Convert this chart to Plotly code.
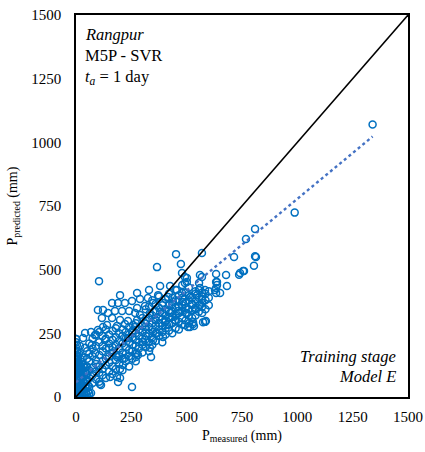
import plotly.graph_objects as go

# ---- data (measured, predicted) in mm ----
READ_POINTS = [
    (1340, 1070), (988, 724), (809, 660), (768, 620), (714, 550), (809, 553), (569, 565),
    (813, 550), (804, 515), (755, 495), (737, 480), (678, 479), (682, 436), (633, 483),
    (633, 452), (633, 428), (633, 408), (651, 408), (583, 420), (569, 471), (569, 353),
    (587, 298), (452, 561), (366, 510), (474, 522), (104, 455), (479, 487), (492, 471),
    (501, 452), (637, 452), (741, 487), (759, 495), (637, 440), (628, 420), (506, 275),
    (529, 287), (583, 295), (393, 236), (280, 165), (0, 228), (41, 251), (86, 243),
    (253, 39), (185, 79), (190, 59), (108, 51), (68, 16),
    (32, 232), (68, 255), (99, 263), (122, 275), (41, 193), (18, 200), (5, 157), (5, 126),
    (72, 204), (86, 173), (131, 224), (149, 193), (185, 157), (212, 126), (199, 110),
    (199, 75), (154, 79), (113, 47), (271, 157), (275, 173), (221, 153), (235, 232),
    (253, 255), (267, 275),
    (312, 275), (348, 255), (366, 251), (348, 224), (312, 224), (303, 216), (334, 193),
    (339, 157), (411, 283), (515, 275), (533, 279),
    (501, 467), (492, 448), (560, 479), (556, 448), (276, 408), (330, 420), (380, 436),
    (425, 436), (456, 420), (289, 385), (325, 389), (371, 400), (416, 393), (479, 408),
    (515, 393), (547, 400), (560, 428), (276, 349), (312, 357), (348, 369), (393, 369),
    (438, 373), (483, 373), (524, 361), (560, 361), (569, 385), (289, 322), (334, 330),
    (380, 334), (425, 330), (461, 338), (501, 330), (538, 345), (574, 294), (529, 294),
    (492, 283), (447, 302), (402, 294), (357, 306), (312, 291),
    (199, 400), (163, 369), (190, 369), (221, 369), (253, 377), (99, 342), (122, 342),
    (145, 330), (176, 338), (208, 338), (240, 338), (267, 330), (117, 310), (163, 310),
    (199, 302), (235, 298), (276, 302), (140, 283), (185, 279), (221, 287), (258, 283),
]

CLOUD_POINTS = [
    (50, 60), (50, 90), (50, 120), (50, 150), (50, 180),
    (60, 40), (60, 75), (60, 105), (60, 140), (60, 170), (60, 210),
    (75, 55), (75, 85), (75, 115), (75, 160), (75, 190), (75, 230),
    (90, 70), (90, 100), (90, 130), (90, 145), (90, 200), (90, 245),
    (105, 60), (105, 95), (105, 120), (105, 165), (105, 215), (105, 255),
    (120, 85), (120, 110), (120, 140), (120, 180), (120, 200), (120, 240),
    (135, 75), (135, 125), (135, 150), (135, 190), (135, 230), (135, 265),
    (150, 100), (150, 135), (150, 160), (150, 210), (150, 245),
    (165, 90), (165, 120), (165, 175), (165, 195), (165, 225), (165, 260),
    (180, 110), (180, 145), (180, 165), (180, 205), (180, 235), (180, 270),
    (195, 130), (195, 160), (195, 190), (195, 220), (195, 250),
    (210, 105), (210, 150), (210, 175), (210, 210), (210, 240), (210, 265),
    (225, 140), (225, 170), (225, 195), (225, 230), (225, 255),
    (240, 120), (240, 160), (240, 185), (240, 215), (240, 245), (240, 275),
    (255, 150), (255, 180), (255, 205), (255, 235), (255, 260),
    (270, 140), (270, 170), (270, 200), (270, 225), (270, 250), (270, 290),
    (285, 190), (285, 215), (285, 240), (285, 265),
    (300, 175), (300, 205), (300, 230), (300, 255), (300, 280), (300, 310),
    (315, 195), (315, 240), (315, 265), (315, 300), (315, 345),
    (330, 180), (330, 215), (330, 250), (330, 275), (330, 310), (330, 355),
    (345, 205), (345, 235), (345, 265), (345, 290), (345, 320), (345, 380),
    (360, 220), (360, 250), (360, 280), (360, 300), (360, 335), (360, 365),
    (375, 240), (375, 265), (375, 290), (375, 315), (375, 350), (375, 395),
    (390, 215), (390, 255), (390, 280), (390, 305), (390, 330), (390, 360),
    (405, 245), (405, 270), (405, 300), (405, 320), (405, 345), (405, 385),
    (420, 260), (420, 285), (420, 310), (420, 340), (420, 360), (420, 405),
    (435, 250), (435, 290), (435, 315), (435, 335), (435, 365), (435, 390),
    (450, 270), (450, 300), (450, 320), (450, 350), (450, 380), (450, 420),
    (465, 265), (465, 295), (465, 330), (465, 355), (465, 375), (465, 400),
    (480, 285), (480, 310), (480, 340), (480, 360), (480, 390), (480, 440),
    (495, 300), (495, 330), (495, 350), (495, 370), (495, 410),
    (510, 290), (510, 320), (510, 345), (510, 380), (510, 400), (510, 430),
    (525, 310), (525, 340), (525, 365), (525, 390),
    (540, 320), (540, 350), (540, 375), (540, 405), (540, 415),
    (555, 335), (555, 360), (555, 390), (555, 420),
    (570, 330), (570, 370), (570, 395), (570, 410),
    (585, 345), (585, 380), (585, 405),
    (600, 360), (600, 390), (600, 415),
]

BLOB_POINTS = [
    (0, 0), (3, 5), (6, 2), (10, 8), (14, 3), (18, 10), (22, 4), (26, 12), (30, 6),
    (35, 15), (40, 8), (45, 18), (50, 10), (55, 22), (60, 14),
    (0, 15), (4, 22), (8, 30), (12, 18), (16, 28), (20, 35), (25, 25), (30, 38),
    (36, 30), (42, 42), (48, 35), (55, 45),
    (0, 35), (3, 45), (7, 52), (11, 40), (15, 55), (19, 48), (24, 60), (28, 50),
    (33, 65), (38, 55), (44, 70), (50, 62),
    (0, 60), (2, 70), (5, 80), (9, 65), (13, 78), (17, 88), (21, 72), (26, 85),
    (31, 95), (36, 80), (41, 100), (47, 90),
    (0, 90), (3, 100), (6, 110), (10, 95), (14, 115), (18, 105), (23, 120), (28, 110),
    (34, 125), (40, 115),
    (0, 120), (2, 132), (5, 145), (8, 125), (12, 140), (16, 130), (20, 150), (25, 138),
    (30, 155),
    (0, 150), (3, 165), (6, 175), (2, 190), (4, 205), (0, 215), (9, 160), (14, 170),
    (1, 228), (5, 182),
]

# linear trendline coefficients
TREND_SLOPE = 0.72
TREND_INTERCEPT = 58

AXIS_MAX = 1500
TICK_VALUES = [0, 250, 500, 750, 1000, 1250, 1500]

all_points = BLOB_POINTS + CLOUD_POINTS + READ_POINTS
measured = [p[0] for p in all_points]
predicted = [p[1] for p in all_points]

trend_x = [min(measured), max(measured)]
trend_y = [TREND_SLOPE * v + TREND_INTERCEPT for v in trend_x]

FONT = "Liberation Serif"
BLUE = "#0070C0"

fig = go.Figure()
fig.add_trace(go.Scatter(
    x=measured, y=predicted, mode="markers",
    marker=dict(symbol="circle-open", size=7, color=BLUE, line=dict(width=1.5, color=BLUE)),
    showlegend=False, hoverinfo="skip"))
fig.add_trace(go.Scatter(
    x=[0, AXIS_MAX], y=[0, AXIS_MAX], mode="lines",
    line=dict(color="black", width=1.5), showlegend=False, hoverinfo="skip"))
fig.add_trace(go.Scatter(
    x=trend_x, y=trend_y, mode="lines",
    line=dict(color="#4472C4", width=2.4, dash="dot"), showlegend=False, hoverinfo="skip"))

axis_common = dict(
    range=[0, AXIS_MAX], tickvals=TICK_VALUES, showgrid=False, zeroline=False,
    showline=True, linecolor="black", linewidth=1.5, mirror=True, ticks="",
    tickfont=dict(family=FONT, size=15, color="black"), automargin=False,
)

fig.update_layout(
    width=425, height=452,
    margin=dict(l=76, r=17, t=15, b=55, autoexpand=False),
    paper_bgcolor="white", plot_bgcolor="white",
    font=dict(family=FONT, size=14, color="black"),
    xaxis=dict(**axis_common, ticklabelstandoff=5,
               title=dict(text="P<sub>measured</sub> (mm)", standoff=6,
                          font=dict(family=FONT, size=14, color="black"))),
    yaxis=dict(**axis_common, ticklabelstandoff=10,
               title=dict(text="P<sub>predicted</sub> (mm)", standoff=10,
                          font=dict(family=FONT, size=14, color="black"))),
    showlegend=False,
)

ann_font = dict(family=FONT, size=16.5, color="black")
fig.add_annotation(text="<i>Rangpur</i>", xref="paper", yref="paper", x=0.021, y=0.948,
                   xanchor="left", yanchor="middle", showarrow=False, font=ann_font)
fig.add_annotation(text="M5P - SVR", xref="paper", yref="paper", x=0.021, y=0.894,
                   xanchor="left", yanchor="middle", showarrow=False, font=ann_font)
fig.add_annotation(text="<i>t</i><sub><i>a</i></sub> = 1 day", xref="paper", yref="paper",
                   x=0.021, y=0.838, xanchor="left", yanchor="middle", showarrow=False,
                   font=ann_font)
fig.add_annotation(text="<i>Training stage</i>", xref="paper", yref="paper", x=0.970, y=0.107,
                   xanchor="right", yanchor="middle", showarrow=False, font=ann_font)
fig.add_annotation(text="<i>Model E</i>", xref="paper", yref="paper", x=0.970, y=0.054,
                   xanchor="right", yanchor="middle", showarrow=False, font=ann_font)

fig.write_html("out.html")
